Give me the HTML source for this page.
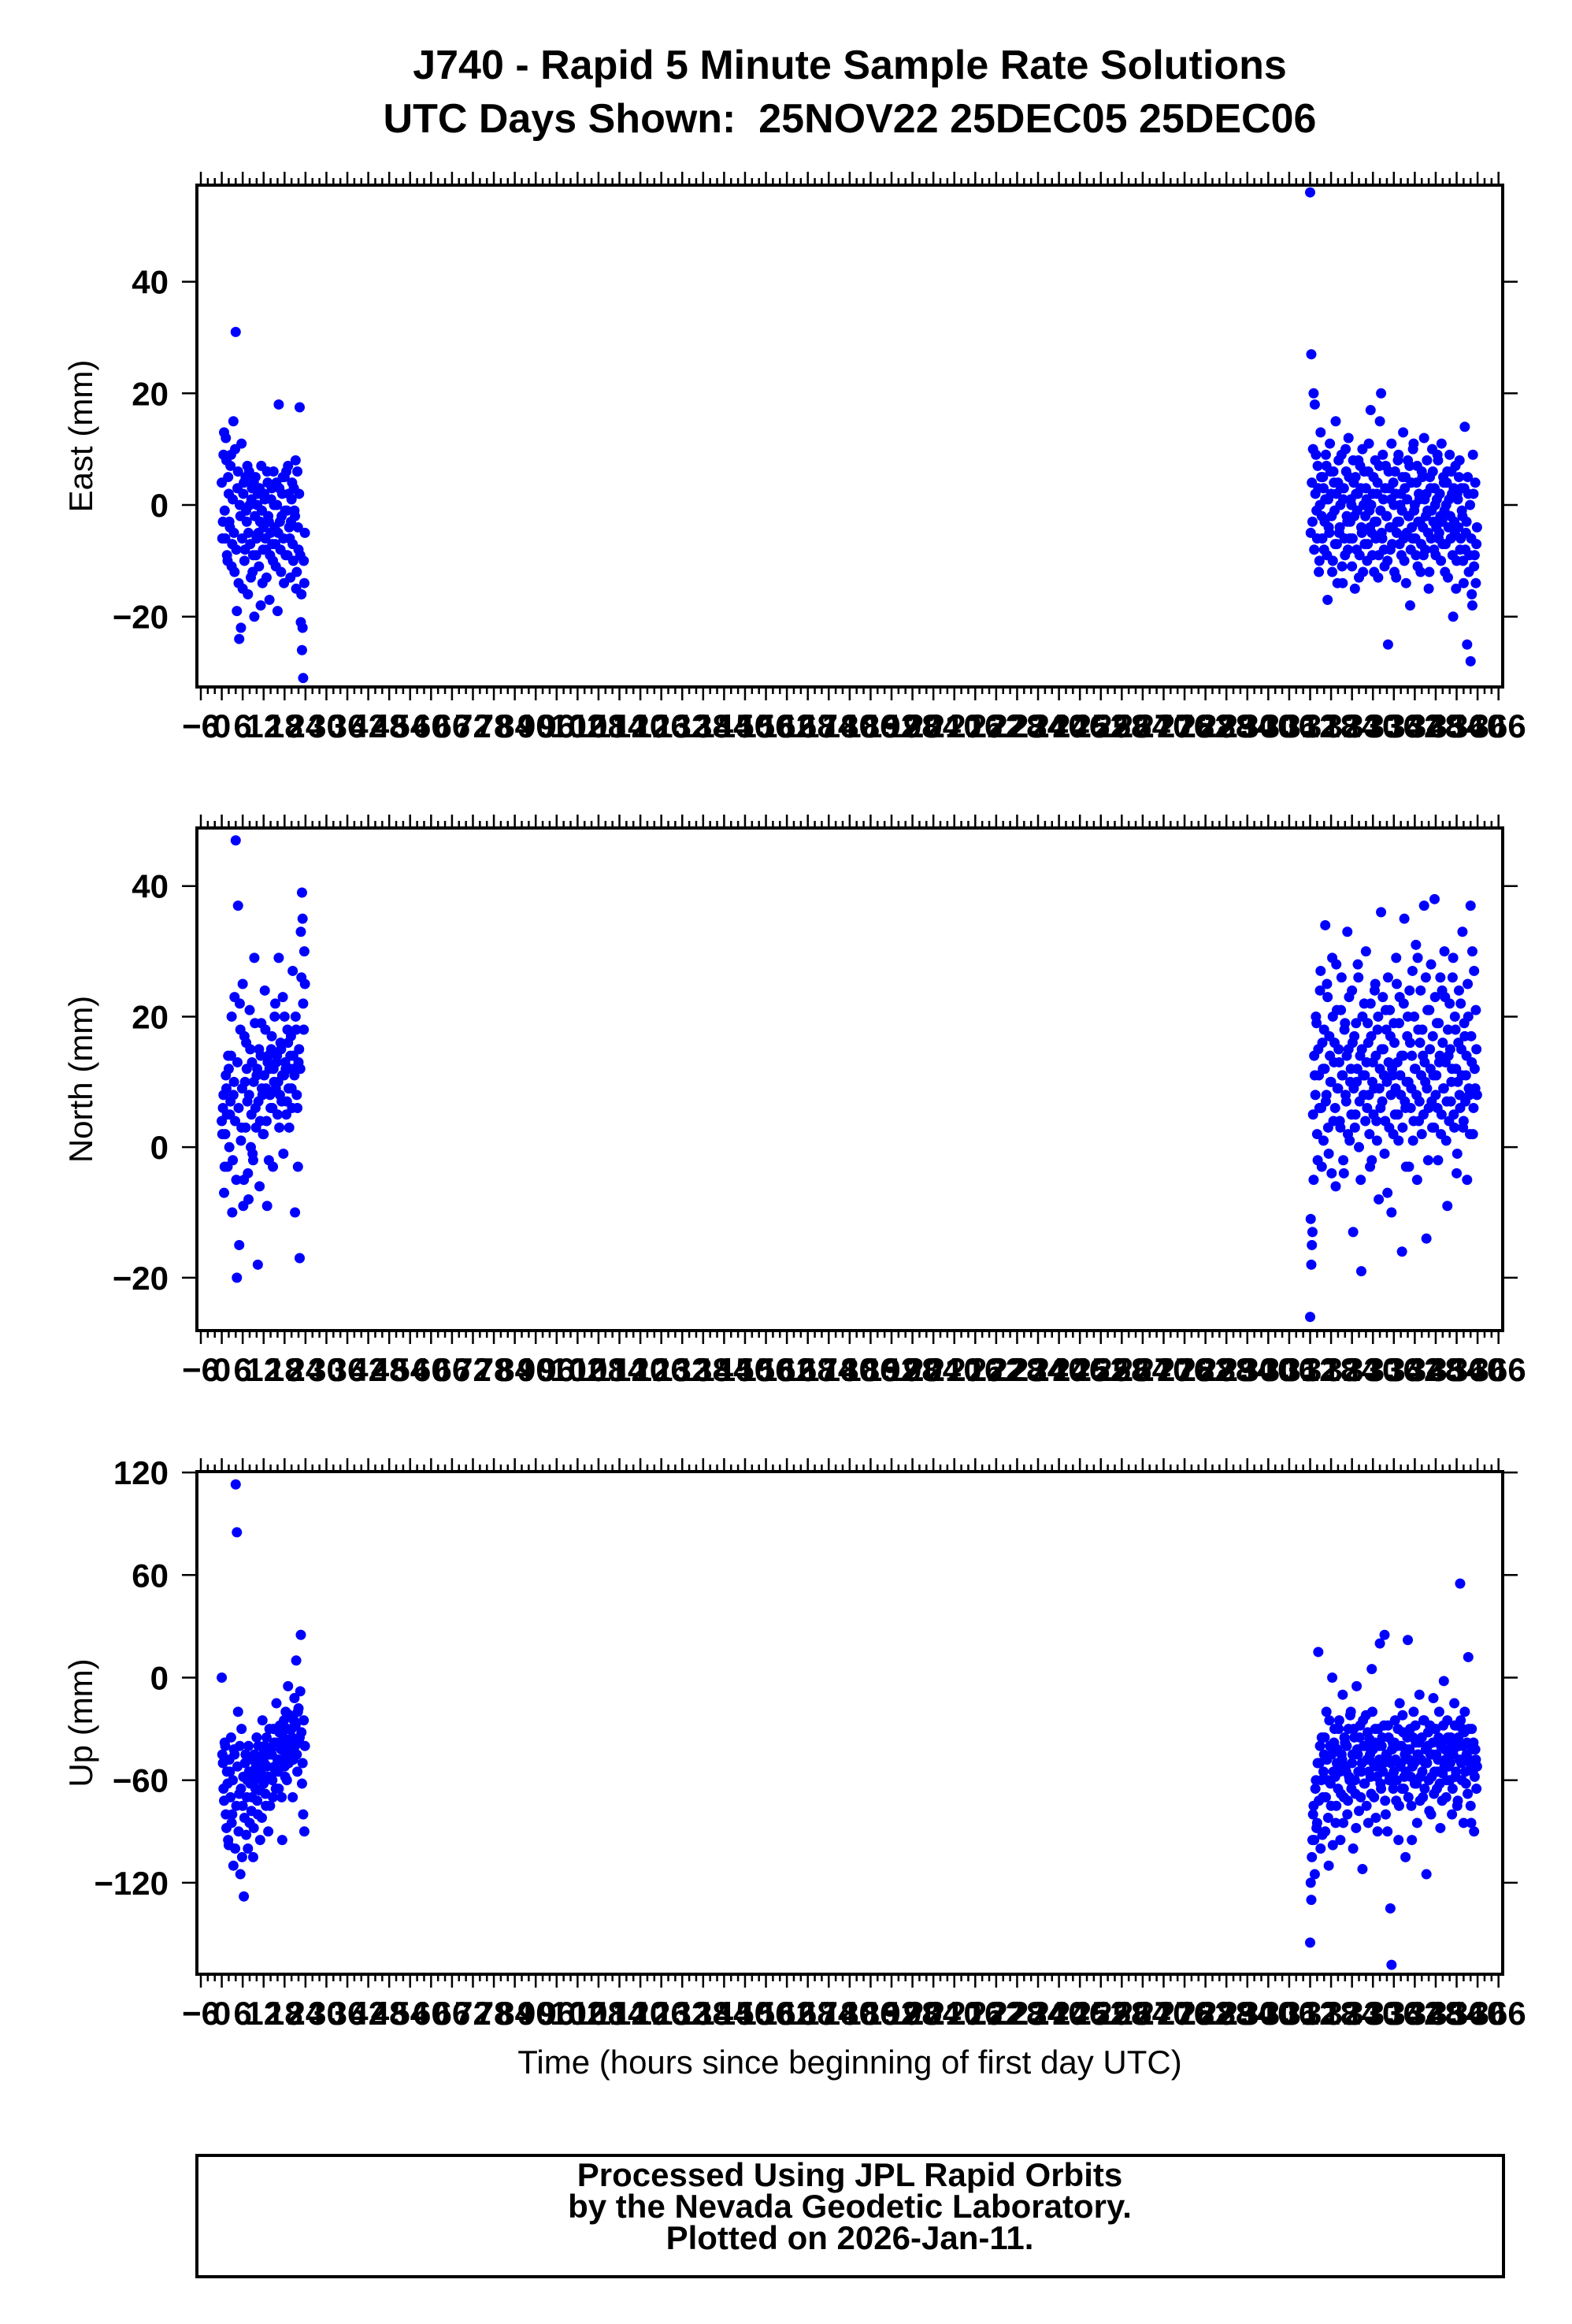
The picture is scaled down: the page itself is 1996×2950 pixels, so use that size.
<!DOCTYPE html>
<html><head><meta charset="utf-8"><style>
html,body{margin:0;padding:0;background:#fff;}
svg{display:block;font-family:"Liberation Sans",Arial,sans-serif;}
</style></head><body>
<svg id="chart" width="1996" height="2950" viewBox="0 0 1996 2950" xmlns="http://www.w3.org/2000/svg">
<rect width="1996" height="2950" fill="#fff"/>
<text x="1079" y="100" text-anchor="middle" font-size="52" font-weight="bold">J740 - Rapid 5 Minute Sample Rate Solutions</text>
<text x="1079" y="168" text-anchor="middle" font-size="52" font-weight="bold" xml:space="preserve">UTC Days Shown:  25NOV22 25DEC05 25DEC06</text>
<text x="1079" y="2632" text-anchor="middle" font-size="42">Time (hours since beginning of first day UTC)</text>
<rect x="250" y="2736" width="1659" height="154" fill="none" stroke="#000" stroke-width="4"/>
<text x="1079" y="2775" text-anchor="middle" font-size="42" font-weight="bold">Processed Using JPL Rapid Orbits</text>
<text x="1079" y="2815" text-anchor="middle" font-size="42" font-weight="bold">by the Nevada Geodetic Laboratory.</text>
<text x="1079" y="2855" text-anchor="middle" font-size="42" font-weight="bold">Plotted on 2026-Jan-11.</text>
<g id="panels"></g>
</svg>
<script>
// x tick labels (hours)
const xTickStart = -6, xTickEnd = 366, xTickStep = 6, xMinorStep = 2;
// sample start hours and interval for each data block
const day1Start = 0, day2Start = 312, sampleStep = 1/3;

const eastDay1 = [4,-3,13,-6,8,-10,2,-4,9,-7,15,-12,
31,-19,6,-24,-2,11,-15,4,-8,-1,7,-5,
0,-13,3,-9,-20,5,-6,2,-11,-3,7,-14,
-4,1,-8,6,-2,-17,-5,3,-10,0,-7,4,
-19,18,-3,-12,2,-6,5,-9,-1,7,-4,-13,
1,-7,3,-2,-15,6,-8,17.5,-21,-26,-31,-14];
const eastDay1b = [-6,9,-1,12,-9,5,-3,7,-11,1,-5,10,
-8,3,-14,0,-22,-6,2,-10,5,-3,-16,6,
-7,1,-12,4,-2,-9,0,-5,3,-18,-1,-8,
2,-6,-13,4,-3,-9,1,-7,6,-4,-11,0,
-5,3,-8,-2,5,-14,-1,6,-9,2,-6,-3,
4,-10,-1,8,-12,-4,2,-9,-16,-22,-10,-5];
const eastDay2 = [56,27,-3,20,18,9,-6,3,-10,13,-2,5,
-8,1,7,-17,-4,11,2,-12,6,-1,15,-7,
4,-5,0,9,-14,3,-9,6,-3,12,-6,1,
-11,8,-2,5,-8,2,-13,7,-4,10,0,-7,
3,-10,6,-1,17,-5,2,-12,8,-3,4,-9,
15,20,-6,1,-11,7,-2,-25,3,-8,11,-4,
0,6,-13,-3,9,-7,2,-1,13,-10,5,-5,
8,-2,-18,4,-6,11,0,-9,7,-3,1,-12,
6,-4,12,-8,2,-1,-15,5,-6,10,-3,3,
-9,1,8,-5,-2,11,-7,4,-12,0,6,-4,
9,-6,2,-20,-3,7,-10,1,5,-8,3,-2,
-14,14,-5,-25,2,-9,-28,-16,9,-11,4,-7];
const eastDay2b = [-5,4,10,-8,2,-1,7,-12,0,5,-6,3,
-3,9,-9,1,-5,6,-2,-10,4,-7,2,-14,
8,-4,3,-11,1,-6,10,-2,-8,5,-3,0,
-6,4,-15,2,-1,8,-9,3,-5,-12,6,-2,
1,-7,11,-4,0,-9,5,-3,-6,2,-13,7,
-1,-5,9,-8,3,-2,-10,6,-4,1,-7,4,
-12,2,-5,8,-3,0,-9,5,-6,3,-14,1,
-2,7,-8,-4,10,-1,-6,4,-11,2,-3,-7,
5,-9,1,-2,8,-5,-12,3,-1,6,-8,0,
-4,9,-6,2,-10,-3,5,-1,-7,4,-13,1,
-2,6,-9,3,-5,-15,2,-4,8,-6,-1,-10,
3,-8,-3,5,-12,0,-6,-18,2,-9,-14,-4];
const northDay1 = [4,6,-7,2,9,-3,12,5,14,-10,8,23,
47,-20,37,-15,18,3,25,-5,10,16,7,-8,
21,0,13,-2,29,6,11,-18,15,4,19,8,
2,24,9,-9,14,12,6,17,-3,10,22,13,
5,29,8,15,11,-1,20,12,7,16,3,14,
9,27,12,-10,18,6,13,-17,33,39,22,30];
const northDay1b = [2,8,-3,11,5,14,0,7,20,-2,10,4,
-5,13,6,22,1,9,-9,17,3,12,-4,8,
15,5,-1,10,19,3,12,7,-6,14,9,2,
11,18,4,13,-2,8,15,6,12,20,9,14,
10,3,16,7,23,11,13,5,18,9,12,17,
6,14,11,20,8,-3,15,12,26,35,18,25];
const northDay2 = [-26,-18,-13,-5,11,20,2,15,6,27,-3,12,
18,34,8,23,-1,14,10,29,4,16,-6,21,
9,13,3,26,11,-4,19,7,33,15,1,12,
24,-13,17,5,10,28,0,14,-19,20,8,11,
30,6,16,2,22,-2,13,9,25,4,18,-8,
12,36,7,15,-1,21,10,26,3,17,-10,11,
19,5,29,13,1,23,8,-16,14,35,6,10,
20,-3,16,9,27,4,12,31,-5,18,7,24,
2,14,37,10,-14,21,6,15,28,3,11,38,
8,19,-2,13,26,5,16,9,23,1,-9,14,
22,7,12,29,3,18,-4,10,24,6,15,33,
4,17,11,-5,20,8,37,13,2,27,9,15];
const northDay2b = [-11,-15,5,14,8,19,-2,11,24,6,16,1,
12,7,25,3,17,10,-4,20,13,6,28,9,
15,4,21,11,-2,18,8,14,2,23,10,5,
16,9,3,19,12,26,7,-5,15,11,22,4,
13,19,8,-3,17,10,5,24,14,1,20,9,
6,15,23,11,4,18,-7,13,21,8,12,2,
16,9,25,5,19,11,14,3,22,7,-3,17,
10,24,6,14,1,20,12,8,29,4,16,11,
18,5,13,26,9,-2,21,12,7,17,3,23,
11,6,19,14,2,24,9,30,13,7,18,4,
15,10,26,5,20,12,-1,16,8,22,11,3,
19,7,14,25,9,2,17,30,6,12,21,8];
const upDay1 = [0,-50,-72,-40,-88,-62,-98,-55,-35,-80,-110,-45,
113,85,-20,-68,-115,-30,-75,-128,-50,-92,-60,-40,
-85,-55,-70,-105,-45,-65,-35,-80,-58,-95,-48,-25,
-62,-40,-75,-52,-90,-30,-58,-45,-70,-38,-55,-15,
-48,-65,-28,-42,-95,-35,-52,-20,-60,-5,-38,-45,
-30,-70,-25,-40,10,-55,-18,-35,25,-62,-80,-90];
const upDay1b = [-45,-65,-38,-80,-55,-95,-48,-70,-85,-60,-42,-100,
-75,-52,-90,-40,-65,-105,-58,-82,-45,-70,-100,-55,
-62,-78,-48,-88,-60,-52,-72,-40,-66,-55,-82,-45,
-50,-68,-35,-58,-45,-75,-42,-60,-30,-52,-65,-38,
-55,-32,-48,-70,-40,-25,-58,-45,-30,-50,-22,-42,
-35,-48,-12,-28,-45,-20,-38,-8,-32,-50,-25,-40];
const upDay2 = [-155,-130,-95,-75,-115,-60,-85,15,-50,-100,-35,-70,
-45,-90,-20,-60,-110,-40,-75,0,-55,-30,-85,-50,
-65,-25,-95,-45,-10,-70,-38,-55,-80,-30,-60,-20,
-50,-100,-35,-68,-5,-45,-78,-28,-55,-112,-40,-62,
-22,-48,-85,-36,-58,5,-42,-70,-30,-52,-90,-40,
20,-65,-35,-50,25,-80,-45,-28,-60,-135,-168,-38,
-55,-25,-72,-40,-95,-15,-50,-65,-32,-58,-105,-42,
22,-48,-30,-75,-52,-20,-62,-38,-85,-45,-10,-58,
-35,-70,-25,-50,-115,-40,-60,-28,-80,-45,-12,-55,
-30,-65,-48,-20,-88,-38,-56,-2,-42,-70,-25,-52,
-60,-35,-80,-45,-15,-58,-28,-72,-40,55,-50,-30,
-85,-20,-62,-38,12,-48,-75,-30,-55,-90,-42,-65];
const upDay2b = [-120,-105,-80,-95,-65,-88,-50,-72,-40,-60,-92,-55,
-35,-70,-48,-82,-25,-62,-45,-98,-38,-58,-75,-42,
-30,-55,-68,-48,-85,-35,-52,-40,-72,-58,-22,-65,
-45,-30,-60,-88,-42,-55,-35,-70,-50,-25,-62,-40,
-75,-32,-55,-45,-68,-20,-50,-38,-82,-58,-30,-48,
-62,-40,-55,-28,-72,-45,-90,-35,-58,-50,-42,-65,
-38,-48,-60,-30,-75,-52,-40,-22,-65,-45,-55,-35,
-70,-42,-58,-95,-35,-50,-28,-62,-45,-38,-72,-48,
-55,-25,-65,-42,-50,-32,-78,-45,-58,-38,-68,-30,
-45,-55,-35,-62,-40,-72,-28,-52,-48,-60,-35,-45,
-50,-38,-65,-42,-28,-55,-75,-35,-48,-25,-60,-40,
-32,-55,-45,-68,-30,-50,-85,-42,-38,-58,-48,-52];
const eastTicks = [-20,0,20,40];
const northTicks = [-20,0,20,40];
const upTicks = [-120,-60,0,60,120];

const NS='http://www.w3.org/2000/svg';
const root=document.getElementById('panels');
const L=250,R=1908;
const xMin=-7.13,xMax=367.2;
function xs(h){return L+(h-xMin)/(xMax-xMin)*(R-L);}
function mk(tag,attrs,parent){const e=document.createElementNS(NS,tag);for(const k in attrs)e.setAttribute(k,attrs[k]);(parent||root).appendChild(e);return e;}

const panels=[
 {key:'east',title:'East (mm)',top:235,bottom:872,yMin:-32.6,yMax:57.3,ticks:eastTicks,blocks:[[eastDay1,day1Start,0],[eastDay1b,day1Start,0.5],[eastDay2,day2Start,0],[eastDay2b,day2Start,0.5]]},
 {key:'north',title:'North (mm)',top:1051,bottom:1689,yMin:-28.1,yMax:48.9,ticks:northTicks,blocks:[[northDay1,day1Start,0],[northDay1b,day1Start,0.5],[northDay2,day2Start,0],[northDay2b,day2Start,0.5]]},
 {key:'up',title:'Up (mm)',top:1868,bottom:2506,yMin:-173.5,yMax:120.5,ticks:upTicks,blocks:[[upDay1,day1Start,0],[upDay1b,day1Start,0.5],[upDay2,day2Start,0],[upDay2b,day2Start,0.5]]}
];
panels.forEach(p=>{
 const g=mk('g',{});
 
 
 const ys=v=>p.bottom-(v-p.yMin)/(p.yMax-p.yMin)*(p.bottom-p.top);
 const tg=mk('g',{stroke:'#000','stroke-width':2.5},g);
 
 
 for(let h=xTickStart;h<=xTickEnd;h+=xMinorStep){
  const major=((h-xTickStart)%xTickStep)===0;
  const len=major?15:7, x=xs(h);
  mk('line',{x1:x,x2:x,y1:p.top-2,y2:p.top-2-len},tg);
  mk('line',{x1:x,x2:x,y1:p.bottom+2,y2:p.bottom+2+len},tg);
 }
 const lg=mk('g',{'font-size':42,'font-weight':'bold','text-anchor':'middle'},g);
 
 
 for(let h=xTickStart;h<=xTickEnd;h+=xTickStep){
  const t=mk('text',{x:xs(h),y:p.bottom+64},lg);
  
  
  t.textContent=h<0?'\u2212'+(-h):String(h);
 }
 p.ticks.forEach(v=>{
  const y=ys(v);
  mk('line',{x1:L-2,x2:L-19,y1:y,y2:y,stroke:'#000','stroke-width':2.5},g);
  mk('line',{x1:R+2,x2:R+19,y1:y,y2:y,stroke:'#000','stroke-width':2.5},g);
  const t=mk('text',{x:214,y:y+15,'font-size':42,'font-weight':'bold','text-anchor':'end'},g);
  
  
  t.textContent=v<0?'\u2212'+(-v):String(v);
 });
 const cy=(p.top+p.bottom)/2;
 const yt=mk('text',{x:0,y:0,'font-size':42,'text-anchor':'middle',transform:`translate(117,${cy}) rotate(-90)`},g);
 
 
 yt.textContent=p.title;
 const pg=mk('g',{fill:'#0000ff'},g);
 
 
 p.blocks.forEach(([arr,st,off])=>{
  arr.forEach((v,i)=>{
   const c=mk('circle',{cx:xs(st+(i+off)*sampleStep),cy:ys(v),r:6.5},pg);
   
   
  });
 });
 const fr=mk('rect',{x:L,y:p.top,width:R-L,height:p.bottom-p.top,fill:'none',stroke:'#000','stroke-width':4},g);
 
 
});
</script>
</body></html>
